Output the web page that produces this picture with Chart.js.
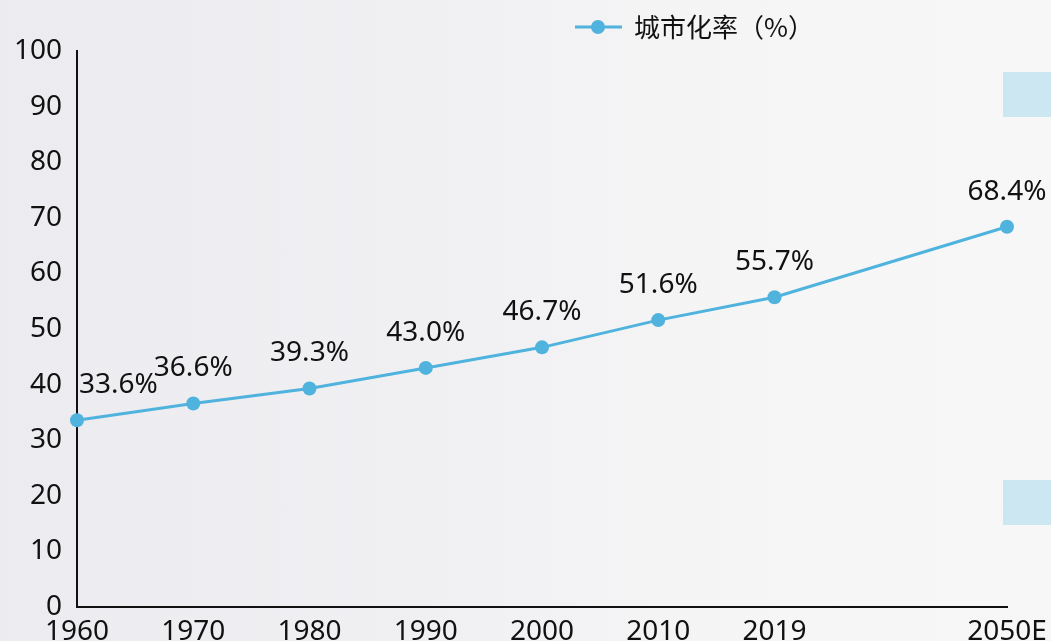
<!DOCTYPE html>
<html>
<head>
<meta charset="utf-8">
<script src="https://cdn.jsdelivr.net/npm/chart.js@4/dist/chart.umd.min.js"></script>
<style>
    html, body {
        margin: 0;
        padding: 0;
        width: 1051px;
        height: 641px;
        overflow: hidden;
    }
    body {
        background: linear-gradient(90deg, #ececf0 0%, #f0f0f3 40%, #f6f6f6 75%, #f7f7f7 100%);
        position: relative;
    }
    .deco {
        position: absolute;
        left: 1003px;
        width: 48px;
        height: 45px;
        background: #cce7f2;
    }
    #wrap {
        position: absolute;
        left: 0;
        top: 0;
        width: 1051px;
        height: 641px;
    }
</style>
</head>
<body>
<div class="deco" style="top:72px"></div>
<div class="deco" style="top:480px"></div>
<div id="wrap"><canvas id="UrbanChart"></canvas></div>
<script>
var years = ['1960', '1970', '1980', '1990', '2000', '2010', '2019', '', '2050E'];
var urbanRate = [33.6, 36.6, 39.3, 43.0, 46.7, 51.6, 55.7, null, 68.4];
var yTicks = [0, 10, 20, 30, 40, 50, 60, 70, 80, 90, 100];
var seriesName = '城市化率（%）';

var lineColor = '#4fb3de';
var numFont = '"Noto Sans", "Open Sans", sans-serif';

// 数据标签 + 图例（手动画）
const labelPlugin = {
    id: 'labelPlugin',
    afterDatasetsDraw(chart) {
        const c = chart.ctx;
        const area = chart.chartArea;
        const meta = chart.getDatasetMeta(0);
        c.save();
        c.font = '28px ' + numFont;
        c.fillStyle = '#111';
        c.textAlign = 'center';
        c.textBaseline = 'middle';
        meta.data.forEach(function (pt, i) {
            let v = urbanRate[i];
            if (v === null) return;
            let txt = v.toFixed(1) + '%';
            let w = c.measureText(txt).width;
            let x = pt.x;
            if (x - w / 2 < area.left) x = area.left + w / 2 + 2;
            c.fillText(txt, x, pt.y - 35);
        });

        // legend
        let ly = 27;
        c.strokeStyle = lineColor;
        c.lineWidth = 3;
        c.beginPath();
        c.moveTo(575, ly);
        c.lineTo(622, ly);
        c.stroke();
        c.fillStyle = lineColor;
        c.beginPath();
        c.arc(598, ly, 7, 0, Math.PI * 2);
        c.fill();
        c.fillStyle = '#111';
        c.textAlign = 'left';
        c.font = '26px "Noto Sans CJK SC", sans-serif';
        c.fillText(seriesName, 634, ly);
        c.restore();
    }
};

const config = {
    type: 'line',
    data: {
        labels: years,
        datasets: [{
            label: seriesName,
            data: urbanRate,
            borderColor: lineColor,
            backgroundColor: lineColor,
            borderWidth: 3,
            pointRadius: 7,
            pointHoverRadius: 7,
            pointBorderWidth: 0,
            spanGaps: true,
            tension: 0
        }]
    },
    options: {
        responsive: true,
        maintainAspectRatio: false,
        animation: false,
        layout: {
            padding: { top: 51, right: 44, left: 0, bottom: 0 }
        },
        plugins: {
            legend: { display: false },
            tooltip: { enabled: false }
        },
        scales: {
            x: {
                offset: false,
                grid: { display: false, drawTicks: false },
                border: { display: true, color: '#111', width: 2 },
                ticks: {
                    autoSkip: false,
                    maxRotation: 0,
                    padding: 8,
                    color: '#111',
                    font: { size: 28, family: numFont }
                },
                afterFit: function (scale) {
                    scale.height = 34;
                    scale.paddingLeft = 0;
                    scale.paddingRight = 0;
                }
            },
            y: {
                min: 0,
                max: 100,
                grid: { display: false, drawTicks: false },
                border: { display: true, color: '#111', width: 2 },
                afterBuildTicks: function (scale) {
                    scale.ticks = yTicks.map(function (v) { return { value: v }; });
                },
                ticks: {
                    padding: 15,
                    color: '#111',
                    font: { size: 28, family: numFont }
                },
                afterFit: function (scale) {
                    scale.width = 77;
                    scale.paddingTop = 0;
                    scale.paddingBottom = 0;
                }
            }
        }
    },
    plugins: [labelPlugin]
};

const ctx = document.getElementById('UrbanChart');
var UrbanChart = new Chart(ctx, config);
</script>
</body>
</html>
